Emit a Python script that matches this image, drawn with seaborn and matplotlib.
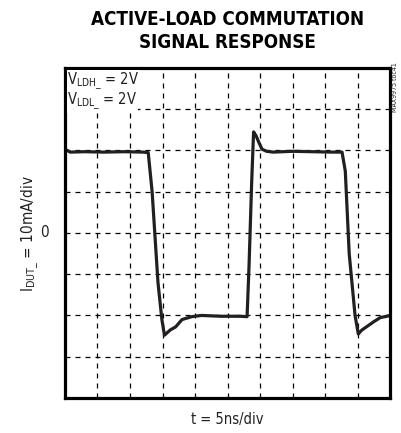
import matplotlib
matplotlib.use("Agg")
import matplotlib.pyplot as plt
import seaborn as sns
import numpy as np

# Scope trace: time in ns (5 ns/div), current in mA (10 mA/div)
time_ns = [0, 0.8, 3, 6, 9, 12, 12.8, 13.4, 14.3, 14.9, 15.3, 16.2, 17.0, 18.0,
           19.5, 21, 24, 27.0, 28.0, 28.3, 28.7, 29.0, 29.4, 29.8, 30.3, 31, 32,
           35, 38, 41, 42.6, 43.1, 43.7, 44.6, 45.1, 45.6, 46.5, 47.5, 48.5,
           49.2, 50]
current_ma = [20.3, 19.6, 19.7, 19.6, 19.7, 19.6, 19.5, 10, -12, -21, -24.8,
              -23.5, -22.8, -21.0, -20.3, -20.0, -20.2, -20.2, -20.3, -8, 12,
              24.5, 23.5, 22, 20.3, 19.8, 19.6, 19.8, 19.7, 19.6, 19.6, 15, -5,
              -20, -24.5, -23.6, -22.6, -21.5, -20.5, -20.3, -20.0]

title_text = "ACTIVE-LOAD COMMUTATION\nSIGNAL RESPONSE"
vldh_text = r"V$_{\mathregular{LDH\_}}$ = 2V"
vldl_text = r"V$_{\mathregular{LDL\_}}$ = 2V"
ylabel_text = r"I$_{\mathregular{DUT\_}}$ = 10mA/div"
xlabel_text = "t = 5ns/div"
tag_text = "MAX9975 toc41"

sns.set_style("white")
plt.rcParams["font.family"] = ["DejaVu Sans"]
plt.rcParams["font.stretch"] = "condensed"
plt.rcParams["mathtext.default"] = "regular"

fig = plt.figure(figsize=(4.01, 4.33), dpi=100)
ax = fig.add_axes([0.162, 0.081, 0.811, 0.762])

ax.set_xlim(0, 50)
ax.set_ylim(-40, 40)
ax.set_xticks(np.arange(5, 50, 5))
ax.set_yticks(np.arange(-30, 40, 10))
ax.tick_params(length=0, labelbottom=False, labelleft=False)
ax.grid(True, color="black", linestyle=(0, (4, 4)), linewidth=0.9)
for s in ax.spines.values():
    s.set_linewidth(2.3)
    s.set_color("black")

sns.lineplot(x=time_ns, y=current_ma, ax=ax, color="#231f20", linewidth=2.3,
             sort=False, estimator=None)
ax.set_xlabel("")
ax.set_ylabel("")

label_kw = dict(color="#231f20", fontstretch="condensed")
bbox = dict(facecolor="white", edgecolor="none", pad=0.5)
ax.text(0.35, 36.8, vldh_text, fontsize=10.5, va="center", ha="left",
        bbox=bbox, **label_kw)
ax.text(0.35, 31.8, vldl_text, fontsize=10.5, va="center", ha="left",
        bbox=bbox, **label_kw)

fig.text(0.567, 0.978, title_text, ha="center", va="top", fontsize=13.5,
         fontweight="bold", fontstretch="condensed", linespacing=1.3,
         color="black")
fig.text(0.075, 0.46, ylabel_text, rotation=90, ha="center", va="center",
         fontsize=11, **label_kw)
fig.text(0.112, 0.462, "0", ha="center", va="center", fontsize=11,
         **label_kw)
fig.text(0.567, 0.032, xlabel_text, ha="center", va="center", fontsize=10.5,
         **label_kw)
fig.text(0.993, 0.80, tag_text, rotation=90, ha="right", va="center",
         fontsize=5, **label_kw)

fig.savefig("out.png", dpi=100)
